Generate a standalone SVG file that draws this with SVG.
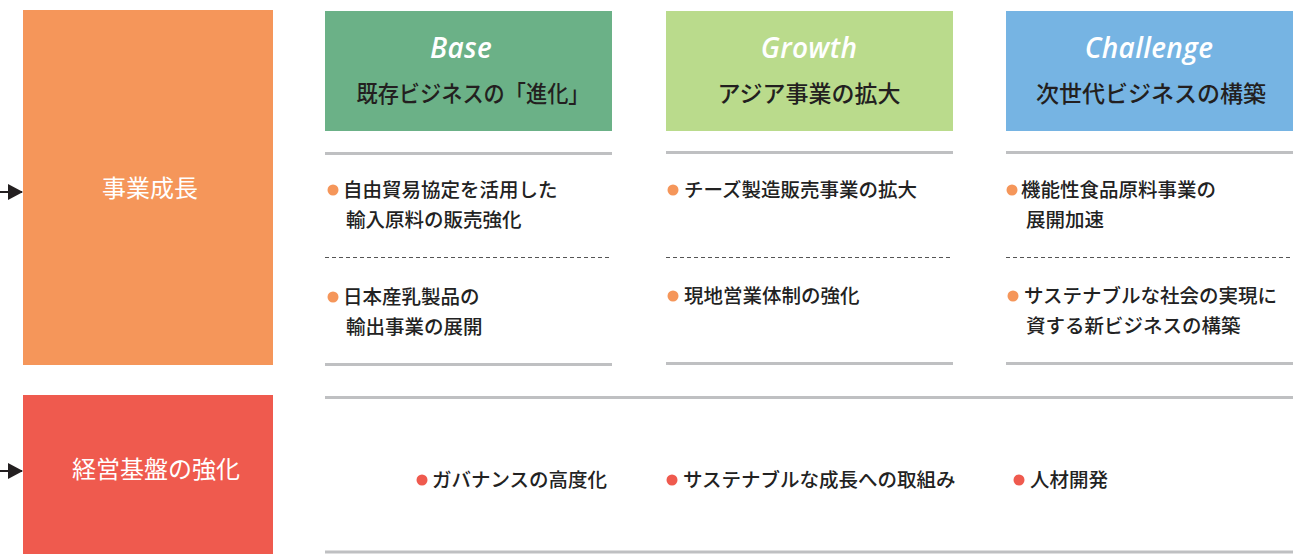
<svg xmlns="http://www.w3.org/2000/svg" width="1307" height="554" viewBox="0 0 1307 554">
<style>
.jp{font-family:"Noto Sans CJK JP","Noto Sans",sans-serif}
.item{font-size:19.5px;fill:#222;font-weight:500}
.hd{font-size:23px;fill:#231f20;font-weight:500;text-anchor:middle}
.en{font-family:"Open Sans",Lato,sans-serif;font-style:italic;font-weight:600;font-size:28px;fill:#fff;text-anchor:middle;letter-spacing:0.3px}
.lbl{font-size:24px;fill:#fff;text-anchor:middle}
.sep{stroke:#bfc0c2;stroke-width:3}
.dash{stroke:#555;stroke-width:1;stroke-dasharray:4 3}
.bo{fill:#f5965a}
.br{fill:#ef5a4e}
</style>
<defs>
<marker id="ah" markerWidth="15" markerHeight="16" refX="14" refY="8" orient="auto" markerUnits="userSpaceOnUse">
<path d="M0,0 L15,8 L0,16 Z" fill="#231f20"/>
</marker>
</defs>
<g id="connectors">
<line x1="0" y1="192" x2="22" y2="192" stroke="#231f20" stroke-width="2" marker-end="url(#ah)"/>
<line x1="0" y1="471" x2="22" y2="471" stroke="#231f20" stroke-width="2" marker-end="url(#ah)"/>
</g>
<g id="growth-node">
<rect x="23" y="10" width="250" height="355" fill="#f5965a"/>
<text class="jp lbl" x="150" y="197">事業成長</text>
</g>
<g id="foundation-node">
<rect x="23" y="395" width="250" height="159" fill="#ef5a4e"/>
<text class="jp lbl" x="156" y="478">経営基盤の強化</text>
</g>
<g id="base-header">
<rect x="325" y="11" width="287" height="120" fill="#6bb187"/>
<text class="en" x="461" y="58">Base</text>
<text class="jp hd" x="473" y="102" textLength="233" lengthAdjust="spacingAndGlyphs">既存ビジネスの「進化」</text>
</g>
<g id="growth-header">
<rect x="666" y="11" width="287" height="120" fill="#badb8c"/>
<text class="en" x="809" y="58">Growth</text>
<text class="jp hd" x="809" y="102">アジア事業の拡大</text>
</g>
<g id="challenge-header">
<rect x="1006" y="11" width="287" height="120" fill="#76b4e3"/>
<text class="en" x="1149" y="58">Challenge</text>
<text class="jp hd" x="1151" y="102">次世代ビジネスの構築</text>
</g>
<g id="separators">
<line class="sep" x1="325" y1="153.5" x2="612" y2="153.5"/>
<line class="sep" x1="666" y1="152.5" x2="953" y2="152.5"/>
<line class="sep" x1="1006" y1="152.5" x2="1293" y2="152.5"/>
<line class="dash" x1="325" y1="257.5" x2="612" y2="257.5"/>
<line class="dash" x1="666" y1="257.5" x2="953" y2="257.5"/>
<line class="dash" x1="1006" y1="257.5" x2="1293" y2="257.5"/>
<line class="sep" x1="325" y1="364.5" x2="612" y2="364.5"/>
<line class="sep" x1="666" y1="363.5" x2="953" y2="363.5"/>
<line class="sep" x1="1006" y1="363.5" x2="1293" y2="363.5"/>
<line class="sep" x1="325" y1="397.5" x2="1293" y2="397.5"/>
<line class="sep" x1="325" y1="552" x2="1293" y2="552"/>
</g>
<g id="base-items">
<circle class="bo" cx="333" cy="190" r="5.5"/>
<text class="jp item" x="343" y="197">自由貿易協定を活用した</text>
<text class="jp item" x="346" y="227">輸入原料の販売強化</text>
<circle class="bo" cx="333" cy="297" r="5.5"/>
<text class="jp item" x="343" y="304">日本産乳製品の</text>
<text class="jp item" x="346" y="334">輸出事業の展開</text>
</g>
<g id="growth-items">
<circle class="bo" cx="673" cy="190" r="5.5"/>
<text class="jp item" x="684" y="197">チーズ製造販売事業の拡大</text>
<circle class="bo" cx="673" cy="296" r="5.5"/>
<text class="jp item" x="684" y="303">現地営業体制の強化</text>
</g>
<g id="challenge-items">
<circle class="bo" cx="1012" cy="190" r="5.5"/>
<text class="jp item" x="1021" y="197">機能性食品原料事業の</text>
<text class="jp item" x="1026" y="227">展開加速</text>
<circle class="bo" cx="1013" cy="296" r="5.5"/>
<text class="jp item" x="1024" y="303">サステナブルな社会の実現に</text>
<text class="jp item" x="1026" y="333">資する新ビジネスの構築</text>
</g>
<g id="foundation-items">
<circle class="br" cx="422" cy="480" r="5.5"/>
<text class="jp item" x="432" y="487">ガバナンスの高度化</text>
<circle class="br" cx="672" cy="480" r="5.5"/>
<text class="jp item" x="683" y="487">サステナブルな成長への取組み</text>
<circle class="br" cx="1019" cy="480" r="5.5"/>
<text class="jp item" x="1030" y="487">人材開発</text>
</g>
</svg>
